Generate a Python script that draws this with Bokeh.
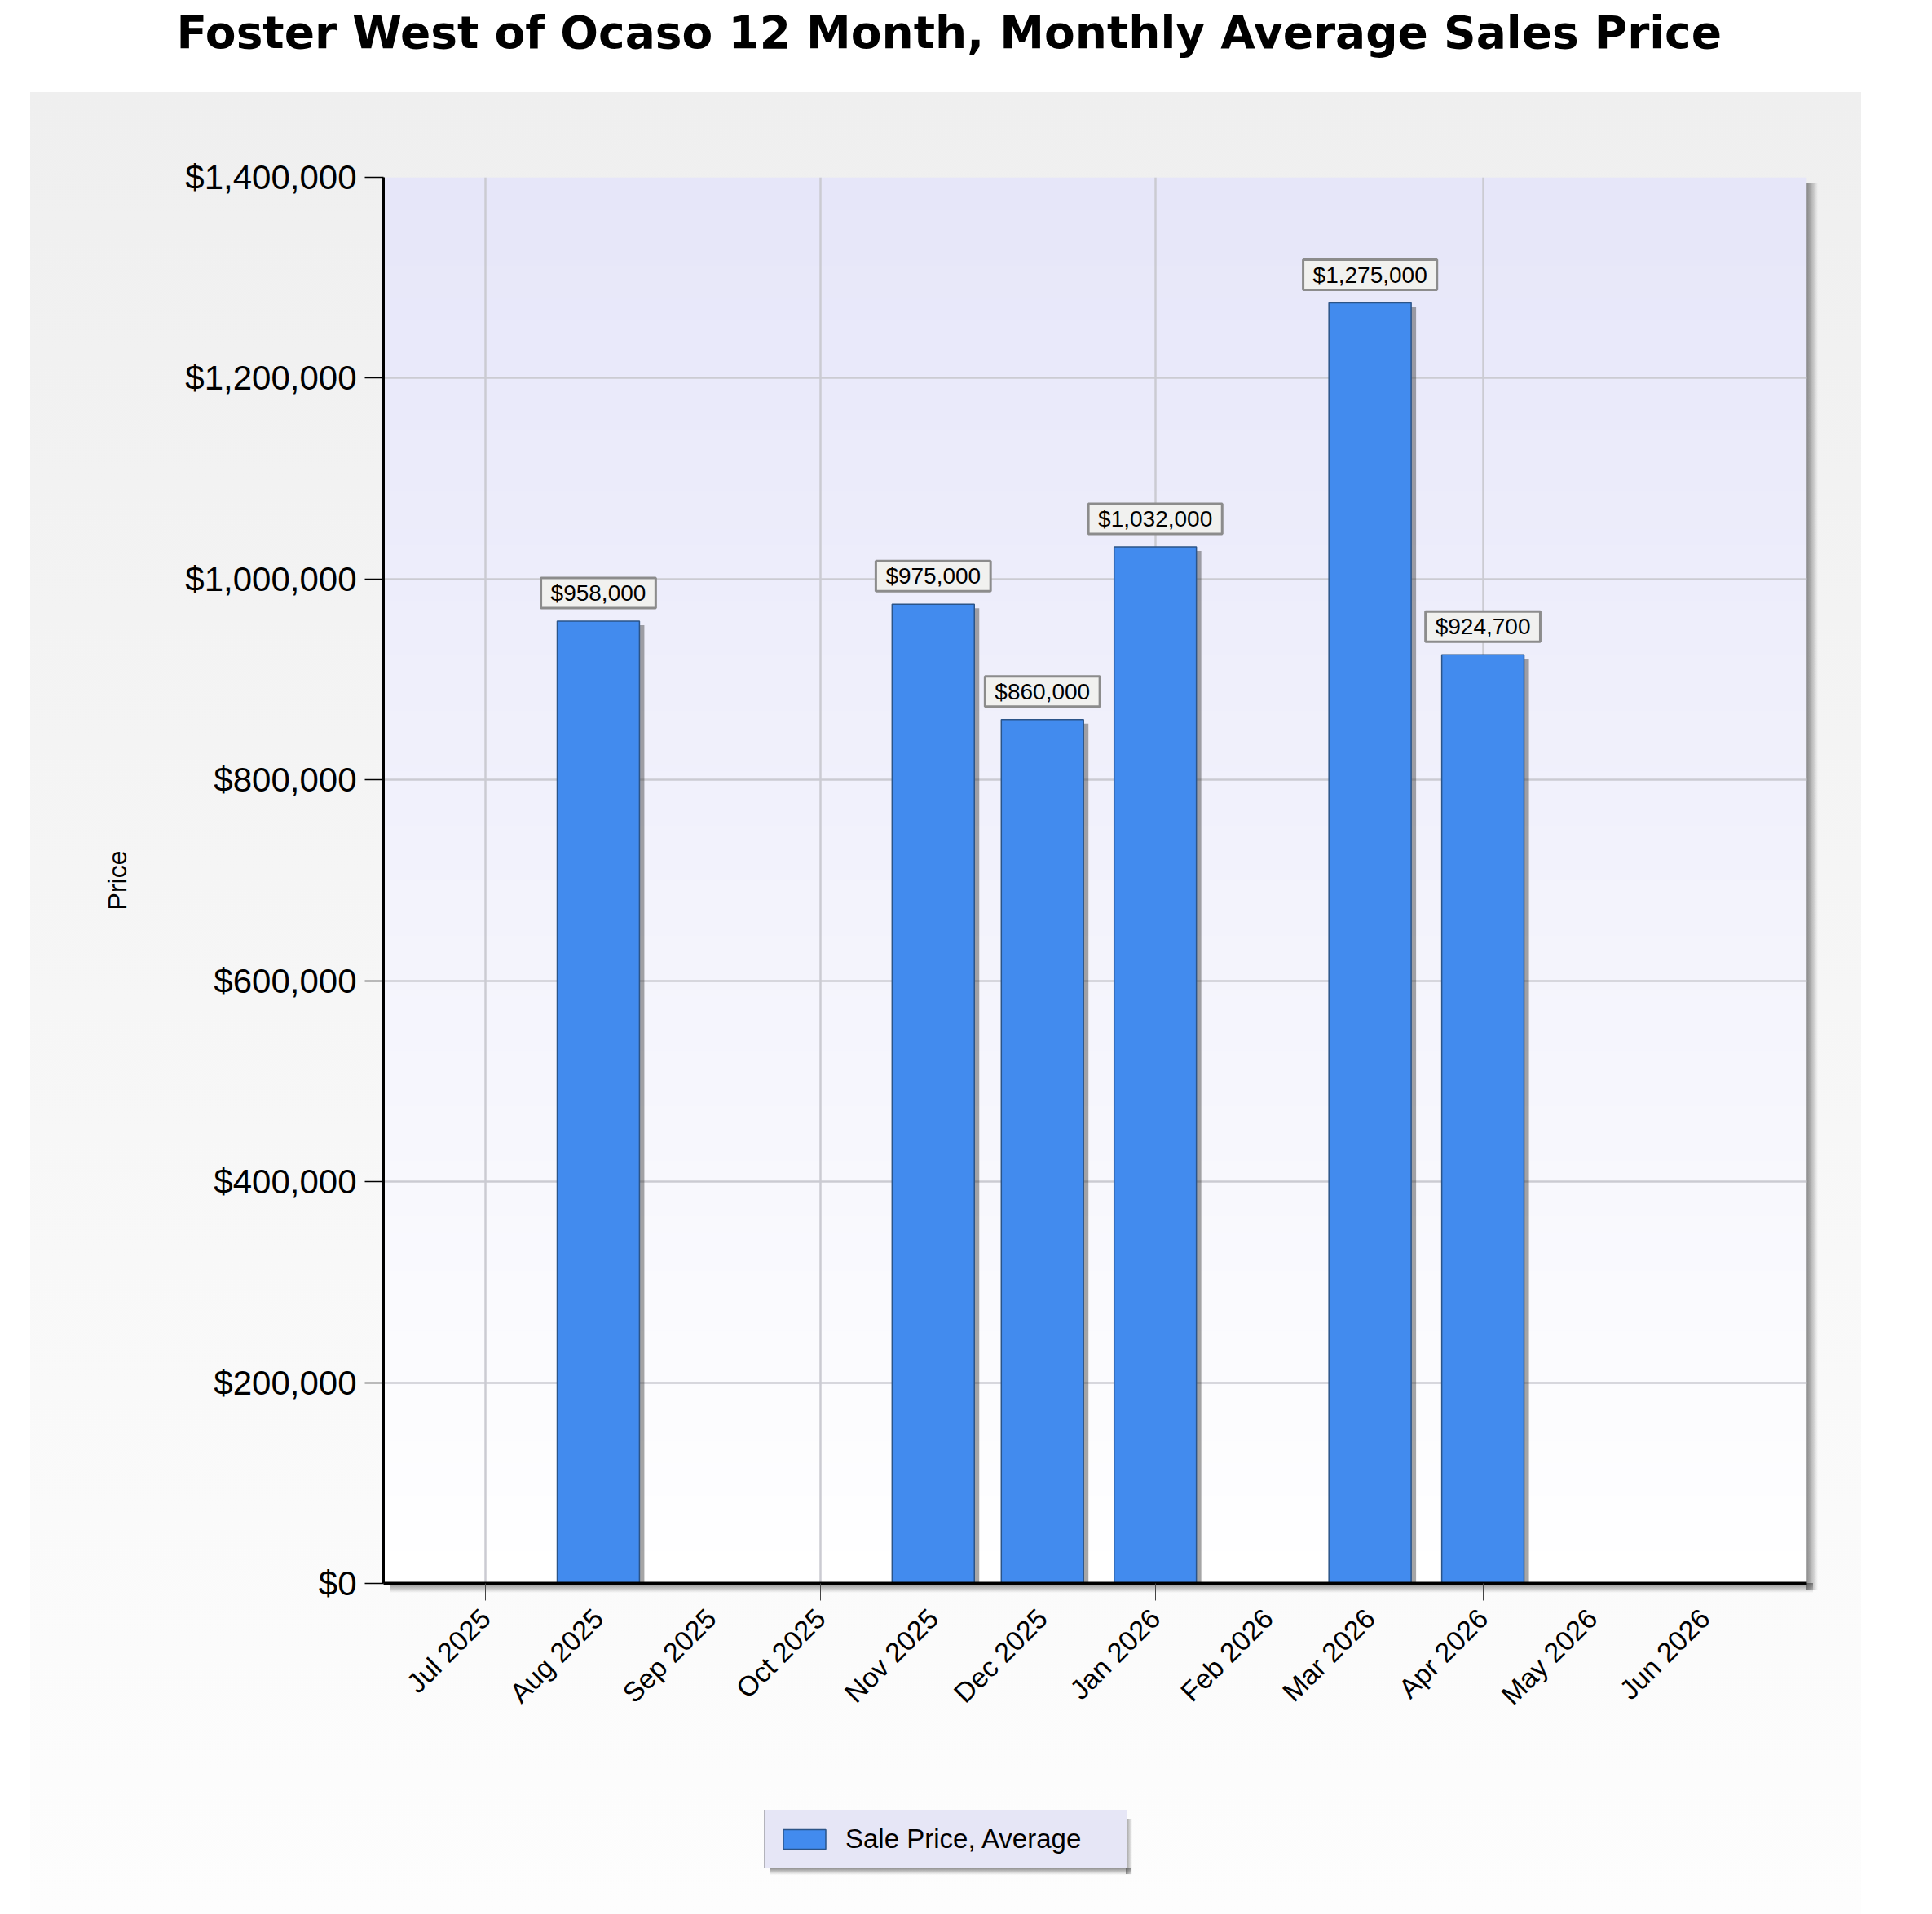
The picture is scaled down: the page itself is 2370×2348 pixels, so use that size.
import numpy as np
import pandas as pd
from bokeh.plotting import figure
from bokeh.layouts import column
from bokeh.models import (ColumnDataSource, Range1d, FixedTicker,
                          NumeralTickFormatter, DatetimeTickFormatter, Label, Legend, LegendItem)
from bokeh.embed import file_html
from bokeh.resources import INLINE

# ---------------- data ----------------
title_text = "Foster West of Ocaso 12 Month, Monthly Average Sales Price"
y_axis_label = "Price"
series_name = "Sale Price, Average"

months = ["2025-07-01", "2025-08-01", "2025-09-01", "2025-10-01", "2025-11-01", "2025-12-01",
          "2026-01-01", "2026-02-01", "2026-03-01", "2026-04-01", "2026-05-01", "2026-06-01"]
month_labels = ["Jul 2025", "Aug 2025", "Sep 2025", "Oct 2025", "Nov 2025", "Dec 2025",
                "Jan 2026", "Feb 2026", "Mar 2026", "Apr 2026", "May 2026", "Jun 2026"]
avg_price = [None, 958000, None, None, 975000, 860000,
             1032000, None, 1275000, 924700, None, None]
grid_months = ["2025-07-01", "2025-10-01", "2026-01-01", "2026-04-01"]
y_ticks = [0, 200000, 400000, 600000, 800000, 1000000, 1200000, 1400000]

# ---------------- geometry / style ----------------
FIG_W, PAGE_H = 2370, 2348
TITLE_H = 113                      # white band holding the title
MAIN_H = 2067                      # chart band
LEG_H = PAGE_H - TITLE_H - MAIN_H  # legend band
FRAME_L, FRAME_T = 470, 217 - TITLE_H
FRAME_W, FRAME_H = 1746, 1725
BORDER_R = FIG_W - FRAME_L - FRAME_W
BORDER_B = MAIN_H - FRAME_T - FRAME_H
PANEL_L, PANEL_W = 37, 2246
TITLE_LEFT = 216
LEG_X, LEG_TOP, LEG_W, LEG_HT = 937, 2224, 444, 68
DAY_MS = 86400000.0
PAD_DAYS = 28
BAR_DAYS = 22.6
BAR_COLOR = "#428bee"
BAR_LINE = "#2b5488"

def to_ms(dates):
    return pd.to_datetime(dates).values.astype("datetime64[ms]").astype("int64").astype(float)

month_ms = to_ms(months)
grid_ms = to_ms(grid_months)

x_start = month_ms[0] - PAD_DAYS * DAY_MS
x_end = month_ms[-1] + PAD_DAYS * DAY_MS
y_start, y_end = y_ticks[0], y_ticks[-1]

ms_per_px = (x_end - x_start) / FRAME_W
val_per_px = (y_end - y_start) / FRAME_H

xs = [m for m, v in zip(month_ms, avg_price) if v is not None]
vals = [v for v in avg_price if v is not None]
src = ColumnDataSource(dict(
    x=xs, price=vals,
    shadow_x=[x + 6 * ms_per_px for x in xs],
    shadow_top=[v - 5 * val_per_px for v in vals],
))

# panel gradient colour split between the chart band and the legend band
def grey(f):
    c = int(round(239 + (253 - 239) * f))
    return f"rgb({c},{c},{c})"
split = grey(MAIN_H / (MAIN_H + LEG_H))

# ---------------- title band ----------------
tfig = figure(width=FIG_W, height=TITLE_H, x_axis_location=None, y_axis_location=None,
              output_backend="svg", toolbar_location=None)
tfig.min_border = 0
tfig.outline_line_color = None
tfig.background_fill_color = "#ffffff"
tfig.border_fill_color = "#ffffff"
tfig.grid.visible = False
tfig.title.text = title_text
tfig.title.text_font = "DejaVu Sans"
tfig.title.text_font_style = "bold"
tfig.title.text_font_size = "55px"
tfig.title.text_color = "#000000"
tfig.title.align = "left"
tfig.title.offset = TITLE_LEFT - FRAME_L   # frames of the column are aligned
tfig.title.standoff = 10

# ---------------- main chart ----------------
p = figure(frame_width=FRAME_W, frame_height=FRAME_H,
           x_axis_type="datetime",
           x_range=Range1d(x_start, x_end), y_range=Range1d(y_start, y_end),
           output_backend="svg", toolbar_location=None)
p.min_border_left = FRAME_L
p.min_border_right = BORDER_R
p.min_border_top = FRAME_T
p.min_border_bottom = BORDER_B
p.border_fill_color = None
p.background_fill_color = None
p.outline_line_color = None

p.styles = {
    "background-color": "#ffffff",
    "background-image": (
        "linear-gradient(to right, rgba(60,60,60,0.6), rgba(60,60,60,0)), "
        "linear-gradient(to bottom, rgba(60,60,60,0.6), rgba(60,60,60,0)), "
        f"linear-gradient(to bottom, rgb(239,239,239), {split})"
    ),
    "background-position": (
        f"{FRAME_L + FRAME_W}px {FRAME_T + 8}px, "
        f"{FRAME_L + 8}px {FRAME_T + FRAME_H}px, "
        f"{PANEL_L}px 0px"
    ),
    "background-size": (
        f"14px {FRAME_H}px, "
        f"{FRAME_W}px 12px, "
        f"{PANEL_W}px {MAIN_H}px"
    ),
    "background-repeat": "no-repeat",
}

# plot-area gradient (lavender -> white)
N = 256
img = np.zeros((N, 1), dtype=np.uint32)
view = img.view(dtype=np.uint8).reshape((N, 1, 4))
t = np.linspace(0.0, 1.0, N)  # 0 bottom -> 1 top
view[:, 0, 0] = np.round(255 - 25 * t).astype(np.uint8)
view[:, 0, 1] = np.round(255 - 25 * t).astype(np.uint8)
view[:, 0, 2] = np.round(255 - 6 * t).astype(np.uint8)
view[:, 0, 3] = 255
p.image_rgba(image=[img], x=x_start, y=y_start, dw=x_end - x_start, dh=y_end - y_start,
             level="image")

# grids
p.ygrid.ticker = FixedTicker(ticks=y_ticks)
p.xgrid.ticker = FixedTicker(ticks=list(grid_ms))
for g in (p.xgrid, p.ygrid):
    g.grid_line_color = "#cbcbd2"
    g.grid_line_width = 2.5

# bars + shadows
p.vbar(x="shadow_x", top="shadow_top", bottom=0, width=BAR_DAYS * DAY_MS, source=src,
       fill_color="#3a3a3a", fill_alpha=0.45, line_color=None)
bars = p.vbar(x="x", top="price", bottom=0, width=BAR_DAYS * DAY_MS, source=src,
              fill_color=BAR_COLOR, line_color=BAR_LINE, line_width=1.5)

# value labels
for x, v in zip(xs, vals):
    p.add_layout(Label(x=x, y=v, text=f"${v:,.0f}", text_align="center",
                       text_baseline="bottom", y_offset=16,
                       text_font="Liberation Sans", text_font_size="28px", text_color="#000000",
                       background_fill_color="#f1f1ef", border_line_color="#8c8c8c",
                       border_line_width=3,
                       padding=dict(left=12, right=12, top=3, bottom=3)))

# y axis
yax = p.yaxis[0]
yax.ticker = FixedTicker(ticks=y_ticks)
yax.formatter = NumeralTickFormatter(format="$0,0")
yax.axis_label = y_axis_label
yax.axis_label_text_font = "Liberation Sans"
yax.axis_label_text_font_size = "32px"
yax.axis_label_text_font_style = "normal"
yax.axis_label_text_color = "#000000"
yax.axis_label_standoff = 62
yax.major_label_text_font = "Liberation Sans"
yax.major_label_text_font_size = "42px"
yax.major_label_text_color = "#000000"
yax.major_label_standoff = 10
yax.axis_line_color = "#000000"
yax.axis_line_width = 3
yax.major_tick_out = 23
yax.major_tick_in = 0
yax.major_tick_line_color = "#000000"
yax.major_tick_line_width = 1.5
yax.minor_tick_line_color = None

# x axis
xax = p.xaxis[0]
xax.ticker = FixedTicker(ticks=list(month_ms), minor_ticks=list(grid_ms))
xax.formatter = DatetimeTickFormatter(days="%b %Y", months="%b %Y", years="%b %Y")
xax.major_label_overrides = {float(m): lbl for m, lbl in zip(month_ms, month_labels)}
xax.major_label_orientation = np.pi / 4
xax.major_label_text_font = "Liberation Sans"
xax.major_label_text_font_size = "34px"
xax.major_label_text_color = "#000000"
xax.major_label_standoff = 16
xax.axis_line_color = "#000000"
xax.axis_line_width = 4
xax.major_tick_out = 0
xax.major_tick_in = 0
xax.minor_tick_out = 21
xax.minor_tick_in = 0
xax.minor_tick_line_color = "#444444"
xax.minor_tick_line_width = 1

# ---------------- legend band ----------------
leg_top_local = LEG_TOP - TITLE_H - MAIN_H      # legend top inside the legend band
lfig = figure(width=FIG_W, height=LEG_H, x_axis_location=None, y_axis_location=None,
              x_range=p.x_range, y_range=Range1d(-2.0, -1.0),
              output_backend="svg", toolbar_location=None)
lfig.min_border = 0
lfig.outline_line_color = None
lfig.background_fill_color = None
lfig.border_fill_color = None
lfig.grid.visible = False
lfig.styles = {
    "background-color": "#ffffff",
    "background-image": (
        "linear-gradient(to right, rgba(60,60,60,0.55), rgba(60,60,60,0)), "
        "linear-gradient(to bottom, rgba(60,60,60,0.55), rgba(60,60,60,0)), "
        f"linear-gradient(to bottom, {split}, rgb(253,253,253))"
    ),
    "background-position": (
        f"{LEG_X + LEG_W}px {leg_top_local + 7}px, "
        f"{LEG_X + 7}px {leg_top_local + LEG_HT}px, "
        f"{PANEL_L}px 0px"
    ),
    "background-size": (
        f"8px {LEG_HT}px, "
        f"{LEG_W}px 8px, "
        f"{PANEL_W}px {LEG_H}px"
    ),
    "background-repeat": "no-repeat",
}
# legend key renderer: same glyph style as the bars, hidden in this band
swatch = lfig.vbar(x="x", top="price", bottom=0, width=BAR_DAYS * DAY_MS, source=src,
                   fill_color=BAR_COLOR, line_color=BAR_LINE, line_width=1.5)
swatch.visible = False
legend = Legend(items=[LegendItem(label=series_name, renderers=[swatch])],
                location=(LEG_X - FRAME_L, LEG_H - (leg_top_local + LEG_HT)),
                orientation="horizontal",
                background_fill_color="#e6e6f6", background_fill_alpha=1.0,
                border_line_color="#808080", border_line_width=1.5,
                inactive_fill_alpha=0.0,
                label_text_font="Liberation Sans", label_text_font_size="33px",
                label_text_color="#000000",
                glyph_width=65, glyph_height=30, label_standoff=18,
                padding=16, spacing=0, margin=0, label_width=329, label_height=36)
lfig.add_layout(legend, "center")

layout = column(tfig, p, lfig, spacing=0)
open("out.html", "w").write(file_html(layout, INLINE))
